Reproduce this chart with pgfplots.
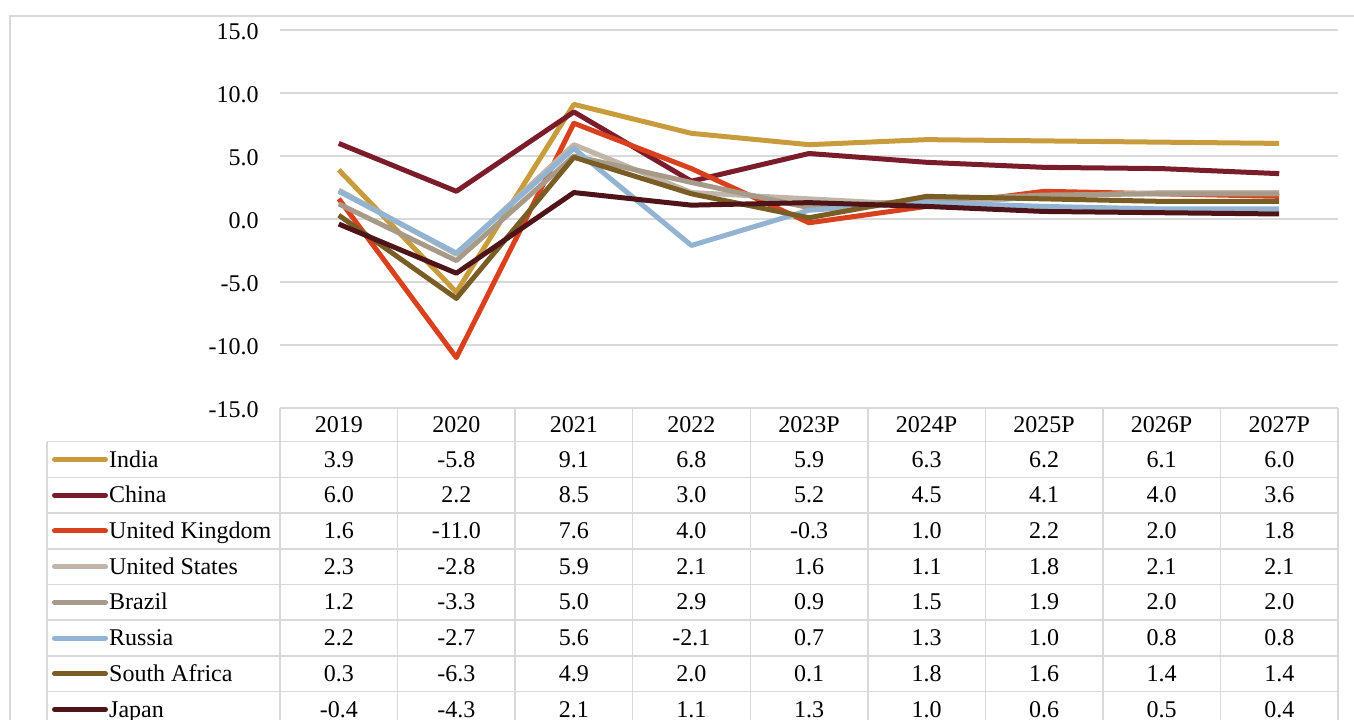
\documentclass[border=0pt]{standalone}
\usepackage{fontspec}
\setmainfont{Liberation Serif}
\usepackage{pgfplots}
\usepackage{pgfplotstable}
\pgfplotsset{compat=1.18}
\definecolor{cIndia}{RGB}{200,155,60}
\definecolor{cChina}{RGB}{123,28,43}
\definecolor{cUK}{RGB}{217,65,30}
\definecolor{cUS}{RGB}{191,181,168}
\definecolor{cBrazil}{RGB}{168,154,136}
\definecolor{cRussia}{RGB}{146,180,210}
\definecolor{cSA}{RGB}{122,92,37}
\definecolor{cJapan}{RGB}{78,20,24}
\definecolor{gridgray}{RGB}{217,217,217}

\pgfplotstableread{
x India China UK US Brazil Russia SAfrica Japan
0 3.9 6.0 1.6 2.3 1.2 2.2 0.3 -0.4
1 -5.8 2.2 -11.0 -2.8 -3.3 -2.7 -6.3 -4.3
2 9.1 8.5 7.6 5.9 5.0 5.6 4.9 2.1
3 6.8 3.0 4.0 2.1 2.9 -2.1 2.0 1.1
4 5.9 5.2 -0.3 1.6 0.9 0.7 0.1 1.3
5 6.3 4.5 1.0 1.1 1.5 1.3 1.8 1.0
6 6.2 4.1 2.2 1.8 1.9 1.0 1.6 0.6
7 6.1 4.0 2.0 2.1 2.0 0.8 1.4 0.5
8 6.0 3.6 1.8 2.1 2.0 0.8 1.4 0.4
}\gdp

\begin{document}
\begin{tikzpicture}[font=\fontsize{12pt}{14pt}\selectfont]
\useasboundingbox (0,0) rectangle (677pt,-359.5pt);
\begin{axis}[
  at={(140pt,-204pt)}, anchor=south west,
  scale only axis, width=529pt, height=189pt,
  xmin=-0.5, xmax=8.5, ymin=-15, ymax=15,
  xtick={0,...,8},
  xticklabels={2019,2020,2021,2022,2023P,2024P,2025P,2026P,2027P},
  ytick={-15,-10,...,15},
  ymajorgrids, grid style={draw=gridgray, line width=0.75pt},
  axis line style={draw=none}, major tick length=0pt, tick style={draw=none},
  /pgf/number format/assume math mode=true,
  yticklabel style={/pgf/number format/fixed, /pgf/number format/fixed zerofill,
    /pgf/number format/precision=1, anchor=base east, inner sep=0pt,
    xshift=-10.5pt, yshift=-4.65pt},
  xticklabel style={anchor=base, inner sep=0pt, yshift=-12.35pt},
  clip=false,
  legend style={at={(axis description cs:-0.2155,-0.08915)}, anchor=north west,
    draw=none, fill=none, inner sep=0pt, outer sep=0pt, row sep=0pt, column sep=0.6pt,
    nodes={inner sep=0pt, text height=12.7pt, text depth=5.15pt, anchor=west}},
  legend cell align=left,
  legend image code/.code={\draw[#1, line width=2.5pt, line cap=round] (0pt,0pt) -- (25.5pt,0pt);},
  every axis plot/.append style={line width=2.5pt, line join=round, mark=none},
]
\addplot[color=cIndia] table[x=x,y=India]{\gdp}; \addlegendentry{India}
\addplot[color=cChina] table[x=x,y=China]{\gdp}; \addlegendentry{China}
\addplot[color=cUK] table[x=x,y=UK]{\gdp}; \addlegendentry{United Kingdom}
\addplot[color=cUS] table[x=x,y=US]{\gdp}; \addlegendentry{United States}
\addplot[color=cBrazil] table[x=x,y=Brazil]{\gdp}; \addlegendentry{Brazil}
\addplot[color=cRussia] table[x=x,y=Russia]{\gdp}; \addlegendentry{Russia}
\addplot[color=cSA] table[x=x,y=SAfrica]{\gdp}; \addlegendentry{South Africa}
\addplot[color=cJapan] table[x=x,y=Japan]{\gdp}; \addlegendentry{Japan}
\end{axis}
\begin{scope}[x=0.5pt,y=-0.5pt]
\draw[gridgray, line width=0.75pt] (10,760) -- (10,16) -- (1400,16);
\draw[gridgray, line width=0.75pt] (280,408) -- (1338,408);
\foreach \k in {0,...,8}
  \draw[gridgray, line width=0.75pt] (47,{441.7+35.7*\k}) -- (1338,{441.7+35.7*\k});
\draw[gridgray, line width=0.75pt] (47,441.7) -- (47,760);
\foreach \k in {0,...,9}
  \draw[gridgray, line width=0.75pt] ({280+117.56*\k},408) -- ({280+117.56*\k},760);
\foreach \col [count=\r from 0] in {India,China,UK,US,Brazil,Russia,SAfrica,Japan}{
  \foreach \i in {0,...,8}{
    \pgfplotstablegetelem{\i}{\col}\of\gdp
    \node[anchor=base, inner sep=0pt] at ({338.8+117.56*\i},{459.55+35.7*\r+7.6}) {\pgfplotsretval};
  }
}
\end{scope}
\end{tikzpicture}
\end{document}
